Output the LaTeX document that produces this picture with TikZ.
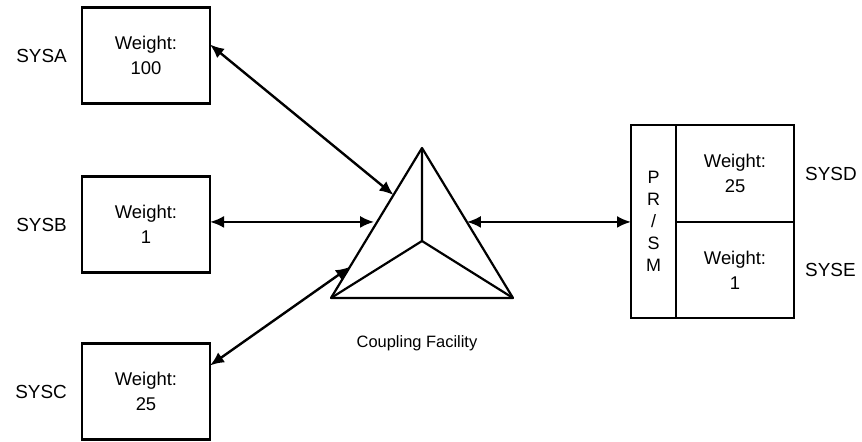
\documentclass[tikz,border=0pt]{standalone}
\usepackage{fontspec}
\setmainfont{Liberation Sans}
\usepackage{tikz}
\usetikzlibrary{shapes,arrows.meta,positioning,calc}

\begin{document}
\begin{tikzpicture}[
    x=1bp, y=-1bp,
    wbox/.style={rectangle, draw=black, line width=2.6bp, fill=white,
      minimum width=128bp, minimum height=96bp, inner sep=0pt, outer sep=0pt,
      align=center, font=\fontsize{18.5}{25}\selectfont},
    prbox/.style={rectangle, draw=black, line width=2.6bp, fill=white,
      minimum width=45bp, minimum height=193bp, inner sep=0pt, outer sep=0pt,
      align=center, font=\fontsize{18}{22}\selectfont},
    lbl/.style={font=\fontsize{19}{21}\selectfont, inner sep=0pt},
    edge/.style={line width=2.2bp, line join=round},
    arr/.style={<->, >={Latex[length=14bp,width=12bp]}, line width=2.4bp}
  ]
    \useasboundingbox (0,0) rectangle (862,442);

    % ── Systems on the left ──────────────────────────────────
    \node[wbox] (sysa) at (146,55.5)  {Weight:\\100};
    \node[wbox] (sysb) at (146,224.5) {Weight:\\1};
    \node[wbox] (sysc) at (146,391.5) {Weight:\\25};
    \node[lbl, left=15bp of sysa] (labela) {SYSA};
    \node[lbl, left=15bp of sysb] (labelb) {SYSB};
    \node[lbl, left=15bp of sysc] (labelc) {SYSC};

    % ── PR/SM machine on the right ───────────────────────────
    \node[prbox] (prsm) at (653.5,221.5) {P\\R\\/\\S\\M};
    \node[wbox, minimum width=118bp, minimum height=97bp, anchor=north west]
      (sysd) at (prsm.north east) {Weight:\\25};
    \node[wbox, minimum width=118bp, anchor=south west]
      (syse) at (prsm.south east) {Weight:\\1};
    \node[lbl, right=11bp of sysd] (labeld) {SYSD};
    \node[lbl, right=11bp of syse] (labele) {SYSE};

    % ── Coupling Facility (triangle) ─────────────────────────
    \coordinate (cftop)   at (422,148);
    \coordinate (cfleft)  at (331,298);
    \coordinate (cfright) at (513,298);
    \coordinate (cfmid)   at (422,241);
    \draw[edge] (cftop) -- (cfleft) -- (cfright) -- cycle;
    \draw[edge] (cftop) -- (cfmid) (cfleft) -- (cfmid) -- (cfright);
    \node[lbl, font=\fontsize{16.5}{18}\selectfont] (cflabel) at (417,343)
      {Coupling Facility};

    % ── Links ────────────────────────────────────────────────
    \coordinate (ina) at ($(cfleft)!0.687!(cftop)$);
    \coordinate (inb) at ($(cfleft)!0.507!(cftop)$);
    \coordinate (inc) at ($(cfleft)!0.207!(cftop)$);
    \coordinate (ind) at ($(cfright)!0.507!(cftop)$);
    \draw[arr] ([yshift=11bp]sysa.east) -- (ina);
    \draw[arr] (sysb.east |- inb) -- ([xshift=-3bp]inb);
    \draw[arr] ([yshift=26bp]sysc.east) -- (inc);
    \draw[arr] (ind) -- (prsm.west |- ind);
\end{tikzpicture}
\end{document}
